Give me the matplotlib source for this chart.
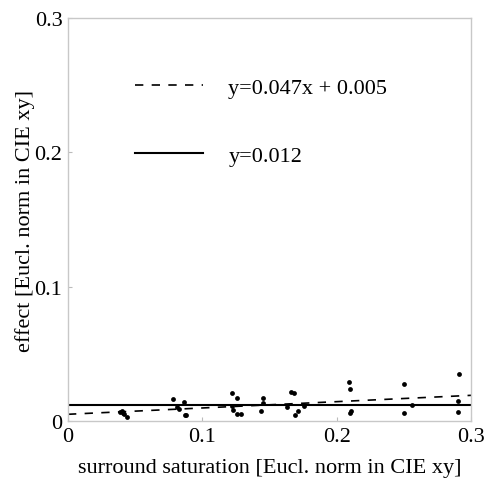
import matplotlib
matplotlib.use("Agg")
import matplotlib.pyplot as plt
import numpy as np

plt.rcParams['font.family'] = ['Liberation Serif', 'DejaVu Serif']

sat = [0.039, 0.040, 0.041, 0.042, 0.044,
       0.078, 0.086, 0.081, 0.083, 0.087, 0.088,
       0.122, 0.126, 0.122, 0.123, 0.126, 0.129,
       0.145, 0.145, 0.144,
       0.166, 0.168, 0.163, 0.171, 0.169, 0.176,
       0.209, 0.210, 0.211, 0.210,
       0.250, 0.250, 0.256,
       0.291, 0.290, 0.290]
eff = [0.0070, 0.0077, 0.0060, 0.0050, 0.0032,
       0.0164, 0.0142, 0.0102, 0.0092, 0.0045, 0.0045,
       0.0206, 0.0169, 0.0114, 0.0084, 0.0052, 0.0052,
       0.0169, 0.0134, 0.0074,
       0.0214, 0.0210, 0.0102, 0.0077, 0.0047, 0.0114,
       0.0288, 0.0238, 0.0077, 0.0060,
       0.0276, 0.0060, 0.0119,
       0.0350, 0.0151, 0.0069]

slope, intercept = 0.047, 0.005
const = 0.012
line_x = [0.0, 0.3]
ticks = [0, 0.1, 0.2, 0.3]
tick_labels = ['0', '0.1', '0.2', '0.3']

fig = plt.figure(figsize=(4.88, 4.85), dpi=100)
ax = fig.add_axes([0.1393, 0.1299, 0.8259, 0.8309])

lx = np.array(line_x)
ax.plot(lx, slope * lx + intercept, color='black', lw=1.2, linestyle=(0, (5, 5)),
        label='y=0.047x + 0.005')
ax.plot(lx, [const, const], color='black', lw=1.5, label='y=0.012')
ax.scatter(sat, eff, s=12, color='black', zorder=3, linewidths=0)

ax.set_xlim(0, 0.3)
ax.set_ylim(0, 0.3)
ax.set_xticks(ticks)
ax.set_xticklabels(tick_labels)
ax.set_yticks(ticks)
ax.set_yticklabels(tick_labels)
ax.tick_params(axis='both', labelsize=16, length=3, color='#bbbbbb', direction='in', pad=4)
for s in ax.spines.values():
    s.set_color('#c8c8c8')
    s.set_linewidth(1.0)

ax.set_xlabel('surround saturation [Eucl. norm in CIE xy]', fontsize=16, labelpad=9)
ax.set_ylabel('effect [Eucl. norm in CIE xy]', fontsize=16, labelpad=0)

leg = ax.legend(loc='upper left', bbox_to_anchor=(0.117, 0.903), frameon=False,
                fontsize=16, handlelength=3.06, handletextpad=1.13, labelspacing=2.16)

fig.savefig('out.png', dpi=100)
